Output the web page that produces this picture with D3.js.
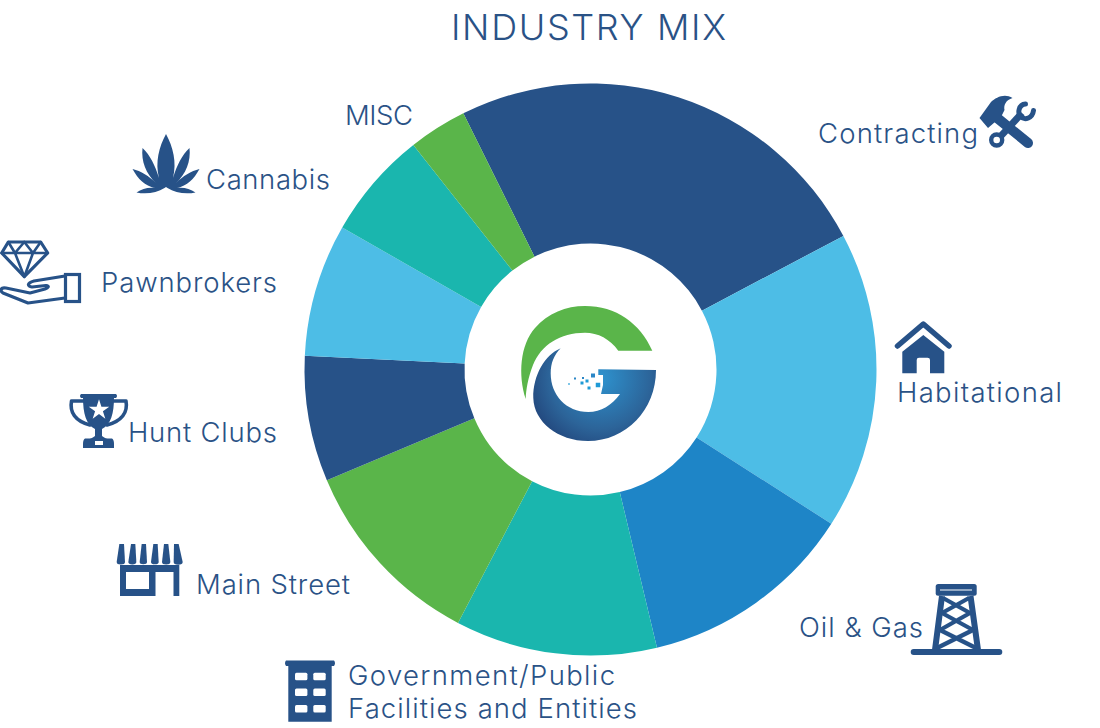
<!DOCTYPE html>
<html>
<head>
<meta charset="utf-8">
<script src="https://d3js.org/d3.v7.min.js"></script>
<style>
html,body{margin:0;padding:0;background:#fff}
svg{display:block}
text{font-family:Inter,"Open Sans",sans-serif;font-weight:300;fill:#2a5286}
</style>
</head>
<body>
<svg id="c" width="1100" height="728"></svg>
<script>
const title = "INDUSTRY MIX";
const categories = ["Contracting","Habitational","Oil & Gas","Government/Public Facilities and Entities","Main Street","Hunt Clubs","Pawnbrokers","Cannabis","MISC"];
const shares = [24.6,16.8,12.2,11.4,11.0,7.1,7.5,6.1,3.3];
const sliceColors = ["#275288","#4dbde6","#1e85c7","#1ab6ae","#5ab54a","#275288","#4dbde6","#1ab6ae","#5ab54a"];

const INK = "#275288";
const svg = d3.select("#c");

// donut
const cx = 590.5, cy = 369.5, rOuter = 286, rInner = 126;
const startAngle = -26.4 * Math.PI / 180;
const pie = d3.pie().sort(null).startAngle(startAngle).endAngle(startAngle + 2 * Math.PI);
const arc = d3.arc().innerRadius(rInner).outerRadius(rOuter);
svg.append("g").attr("transform", `translate(${cx},${cy})`)
  .selectAll("path").data(pie(shares)).join("path")
  .attr("d", arc).attr("fill", (d, i) => sliceColors[i]);

// text
const labelLayout = [
  {lines:["Contracting"], x:818, y:[143], w:[160]},
  {lines:["Habitational"], x:897, y:[402], w:[165]},
  {lines:["Oil & Gas"], x:799, y:[637], w:[124]},
  {lines:["Government/Public","Facilities and Entities"], x:348, y:[685,718], w:[267,289]},
  {lines:["Main Street"], x:196, y:[594], w:[154]},
  {lines:["Hunt Clubs"], x:128, y:[442], w:[149]},
  {lines:["Pawnbrokers"], x:101, y:[292], w:[176]},
  {lines:["Cannabis"], x:206, y:[189], w:[124]},
  {lines:["MISC"], x:345, y:[125], w:[68]}
];
svg.append("text").attr("x",451).attr("y",40).attr("font-size",36)
  .attr("textLength",275).attr("lengthAdjust","spacing").text(title);
labelLayout.forEach(l => l.lines.forEach((t,i) => {
  svg.append("text").attr("x",l.x).attr("y",l.y[i]).attr("font-size",27.5)
    .attr("textLength",l.w[i]).attr("lengthAdjust","spacing").text(t);
}));

// icons
const icons = svg.append("g");
const fillP = (d, c=INK) => icons.append("path").attr("d", d).attr("fill", c);
const strokeP = (d, w, cap="round") => icons.append("path").attr("d", d).attr("fill","none")
  .attr("stroke",INK).attr("stroke-width",w).attr("stroke-linecap",cap).attr("stroke-linejoin","round");

// cannabis
fillP("M166 134 C173 147 177 162 173 178 C177 165 182 155 189.5 148 C191 161 186 174 176 183 C183 176 191 171 199.5 169 C194 179 187 186 177 188 C184 187 190 189 195.5 192.5 C186 194.5 175 193 167.5 188 L166 187 L164.5 188 C157 193 146 194.5 136.5 192.5 C142 189 148 187 155 188 C145 186 138 179 132.5 169 C141 171 149 176 156 183 C146 174 141 161 142.5 148 C150 155 155 165 159 178 C155 162 159 147 166 134 Z");

// diamond + hand
strokeP("M8.3 242 L40.7 242 L47.7 253 L24.3 276.7 L1.7 253 Z", 3.2);
strokeP("M1.7 253 L47.7 253 M8.3 242 L15 253 L24.3 242 L33 253 L40.7 242 M15 253 L24.3 276.7 L33 253", 2.6);
strokeP("M65 276 L34 281 C27 283 27 286 32 287 L46 285.5 C50 286 48 288 45 289 L30 293 L6 288 C0 287 0 291 3 293 L28 303 L65 298", 3.2);
icons.append("rect").attr("x",65.5).attr("y",274.5).attr("width",14).attr("height",27)
  .attr("fill","none").attr("stroke",INK).attr("stroke-width",3.2);

// trophy
fillP("M81 394 H116 Q118 396 116 398 H81 Q79 396 81 394 Z");
fillP("M83 397 H114 C114 414 111 424 102 429 V436 C104 438 108 439 110 440 H87 C89 439 93 438 95 436 V429 C86 424 83 414 83 397 Z");
strokeP("M86 401 H71.5 C69.5 412 75 421 90 425 M111 401 H126 C128 412 122 421 107 425", 3.6);
fillP("M85 438.5 H112 Q114 439.5 114 444 V448 H83 V444 Q83 439.5 85 438.5 Z");
icons.append("rect").attr("x",95).attr("y",441).attr("width",8).attr("height",4).attr("fill","#fff");
icons.append("path").attr("transform","translate(99,410)").attr("d", d3.symbol(d3.symbolStar, 130)()).attr("fill","#fff");

// store
const stripes = [[178,192,170,195],[213,226,205,229],[245,258,239,261],[280,293,273,296],[312,325,306,331],[342,356,341,368]];
stripes.forEach(s => {
  const X = v => 60 + v/3;
  const r = (X(s[3])-X(s[2]))/2;
  fillP(`M${X(s[0])} 544 H${X(s[1])} L${X(s[3])} 562 A${r} ${r*0.6} 0 0 1 ${X(s[2])} 562 Z`);
});
fillP("M120 565 H179.3 V596 H173.5 V572 H155.5 V596 H120 Z M126 572 V589 H149 V572 Z");

// government building
fillP("M286 660.5 H334 Q336 663 334 666 H286 Q284 663 286 660.5 Z");
fillP("M288.3 666 H331.7 V721.7 H288.3 Z");
[295,313.3].forEach(x => [672.7,688.5,705].forEach(y => {
  icons.append("rect").attr("x",x).attr("y",y).attr("width",12.4).attr("height",7.6).attr("rx",1.5).attr("fill","#fff");
}));

// tools
strokeP("M996 117 L1028 143", 10);
fillP("M979.5 118 L991 102 C996 97 1005 93 1012.5 98 C1006 100 1003.5 105 1004.5 110 L1001 117 L995 122 L988 128 Z");
strokeP("M1000 137 L1022 113", 7, "butt");
icons.append("circle").attr("cx",996.7).attr("cy",140).attr("r",5.5).attr("fill","none").attr("stroke",INK).attr("stroke-width",4.4);
strokeP("M1025.5 104 C1018.5 104.5 1017.5 113 1020.5 116.5 C1025 121 1032.5 118 1033.5 110.5", 5);

// house
strokeP("M897.5 346 L923.3 324 L949 346", 5.5);
fillP("M902.3 373.3 V351.7 L923.3 335 L944.3 351.7 V373.3 H930 V360 Q930 357.7 927.5 357.7 H919 Q916.7 357.7 916.7 360 V373.3 Z");

// derrick
icons.append("rect").attr("x",910.7).attr("y",649).attr("width",91.6).attr("height",6).attr("rx",3).attr("fill",INK);
icons.append("rect").attr("x",935.7).attr("y",584).attr("width",41).attr("height",11.7).attr("rx",2.5).attr("fill",INK);
icons.append("rect").attr("x",940).attr("y",589.5).attr("width",32).attr("height",1).attr("fill","#fff");
strokeP("M942 596 L935 650 M970.5 596 L978 650", 6, "butt");
strokeP("M943 598 L970 613 L940 630 L976 648 M969 598 L942 613 L973 630 L937 648", 4.2, "butt");

// logo
const defs = svg.append("defs");
const grad = defs.append("radialGradient").attr("id","lg").attr("gradientUnits","userSpaceOnUse")
  .attr("cx",600).attr("cy",378).attr("r",85);
grad.append("stop").attr("offset","0").attr("stop-color","#2e93cf");
grad.append("stop").attr("offset","0.6").attr("stop-color","#2c6499");
grad.append("stop").attr("offset","1").attr("stop-color","#1e3a70");
fillP("M525.7 399 C518 375 520 345 535 328 C548 313 566 306 585 306 C616 306 640 323 652.3 350.7 L618.3 350.7 C610 339 598 332.7 585 332.7 C560 332.7 541 345 533 365 C528 378 526 390 525.7 399 Z", "#5ab54a");
fillP("M560.7 348.3 C545 355 533 375 533.3 398 C534 422 558 441 588 441 C626 441 656 410 656 370 L598.3 369.3 V375 H603 V385 L601 394 H620 C612 405 601 412 588.3 412 C566 412 550.7 395 550.7 373.3 C550.7 363 554 355 560.7 348.3 Z", "url(#lg)");
const specks = [[593,375.5,4],[587,381,3],[582,383,3],[583,378,2],[575,378.5,2],[569,384,1.5],[589,388,3],[598,385,4.5]];
specks.forEach(p => icons.append("rect").attr("x",p[0]-p[2]/2).attr("y",p[1]-p[2]/2)
  .attr("width",p[2]).attr("height",p[2]).attr("fill",p[1] < 380 ? "#2a86c6" : "#1e9ad6"));
</script>
</body>
</html>
